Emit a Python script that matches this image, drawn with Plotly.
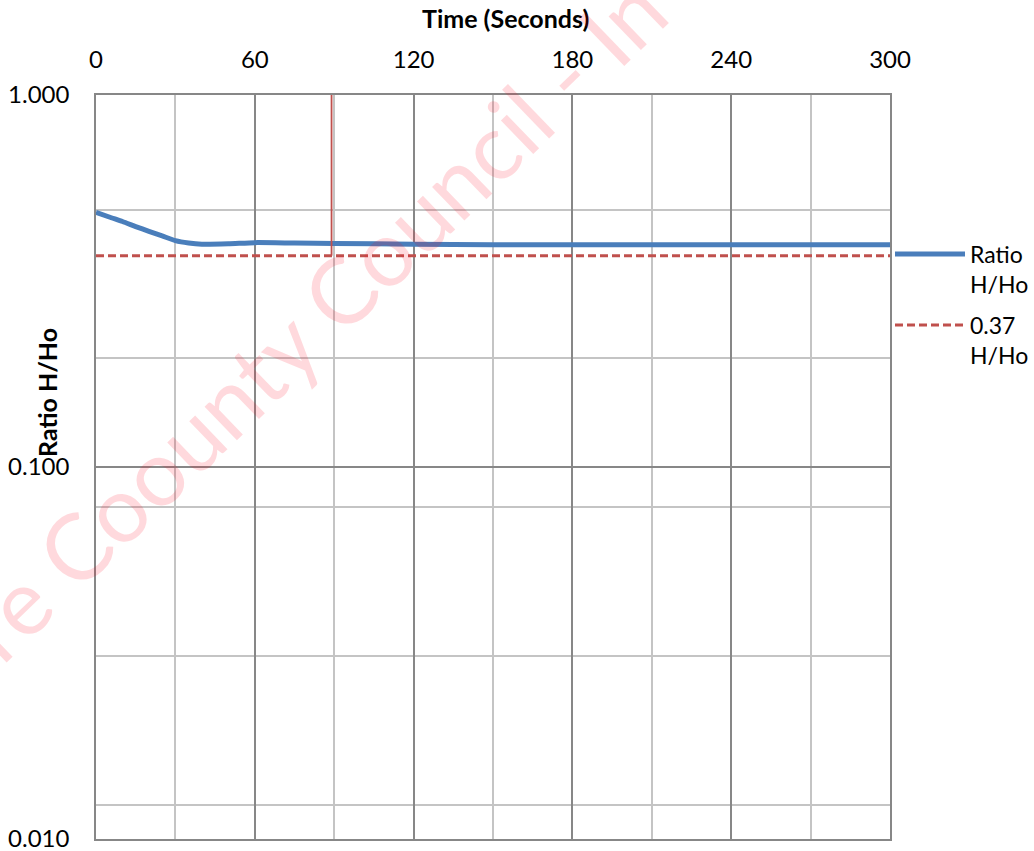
import plotly.graph_objects as go

# ---- data ----
time_s = [0, 5, 10, 15, 20, 25, 30, 35, 40, 50, 60, 75, 90, 120, 150, 180, 240, 300]
ratio_h_ho = [0.484, 0.470, 0.457, 0.443, 0.430, 0.418, 0.406, 0.400, 0.397, 0.398,
              0.401, 0.400, 0.399, 0.397, 0.396, 0.396, 0.396, 0.396]

ref_t = [0, 300]
ref_ratio = [0.37, 0.37]

lag_t = [89, 89]
lag_ratio = [0.37, 1.0]

x_ticks = [0, 60, 120, 180, 240, 300]
y_ticks = [0.01, 0.1, 1.0]
y_minor_grid = [0.4908, 0.1963, 0.0781, 0.03105, 0.01234]

FONT = "Lato"
DARK = "#878787"
LIGHT = "#c4c4c4"
BLUE = "#4a7ebb"
RED = "#c0504d"

fig = go.Figure()

fig.add_trace(go.Scatter(
    x=time_s, y=ratio_h_ho, mode="lines", name="Ratio<br>H/Ho", legendgroup="a",
    line=dict(color=BLUE, width=5, shape="spline", smoothing=0.6),
))
fig.add_trace(go.Scatter(
    x=ref_t, y=ref_ratio, mode="lines", name="0.37<br>H/Ho", legendgroup="b",
    line=dict(color=RED, width=3, dash="8px,4px"),
))
fig.add_trace(go.Scatter(
    x=lag_t, y=lag_ratio, mode="lines", showlegend=False,
    line=dict(color=RED, width=1.8),
))

fig.update_layout(
    width=1034, height=851,
    margin=dict(l=96, r=144, t=95, b=12, autoexpand=False),
    paper_bgcolor="white", plot_bgcolor="white",
    font=dict(family=FONT, size=23, color="#000000"),
    showlegend=True,
    legend=dict(
        x=1.0, xanchor="left", y=0.815, yanchor="top",
        font=dict(family=FONT, size=23, color="#000000"),
        valign="top", itemwidth=70, tracegroupgap=8,
        bgcolor="rgba(0,0,0,0)",
    ),
    xaxis=dict(
        side="top", range=[0, 300], tickvals=x_ticks, automargin=False,
        ticks="", ticklabelstandoff=16, ticklabeloverflow="allow",
        showgrid=True, gridcolor=DARK, gridwidth=1.5,
        minor=dict(dtick=30, showgrid=True, gridcolor=LIGHT, gridwidth=1.5),
        showline=True, linecolor=DARK, linewidth=1.5, mirror=True,
        zeroline=False,
        tickfont=dict(family=FONT, size=24),
    ),
    yaxis=dict(
        type="log", range=[-2, 0], tickvals=y_ticks, tickformat=".3f", automargin=False,
        ticks="", ticklabelstandoff=20, ticklabeloverflow="allow",
        showgrid=True, gridcolor=DARK, gridwidth=1.5,
        minor=dict(tickvals=y_minor_grid, showgrid=True, gridcolor=LIGHT, gridwidth=1.5),
        showline=True, linecolor=DARK, linewidth=1.5, mirror=True,
        zeroline=False,
        tickfont=dict(family=FONT, size=24),
    ),
    annotations=[
        dict(text="<b>Time (Seconds)</b>", xref="paper", yref="paper",
             x=0.516, y=1.1035, xanchor="center", yanchor="middle",
             showarrow=False, font=dict(family=FONT, size=25)),
        dict(text="<b>Ratio H/Ho</b>", xref="paper", yref="paper",
             x=-0.0617, y=0.5995, xanchor="center", yanchor="middle",
             textangle=-90, showarrow=False, font=dict(family=FONT, size=25)),
        dict(text="re Coounty Council - In", xref="paper", yref="paper",
             x=0.2733, y=0.7003, xanchor="center", yanchor="middle",
             textangle=-44, showarrow=False,
             font=dict(family=FONT, size=92, color="rgba(255,0,25,0.15)")),
    ],
)

# remove the default 8px page margin so the figure fills the window exactly
fig.write_html(
    "out.html",
    config={"displayModeBar": False},
    post_script="document.body.style.margin='0';document.body.style.overflow='hidden';",
)
